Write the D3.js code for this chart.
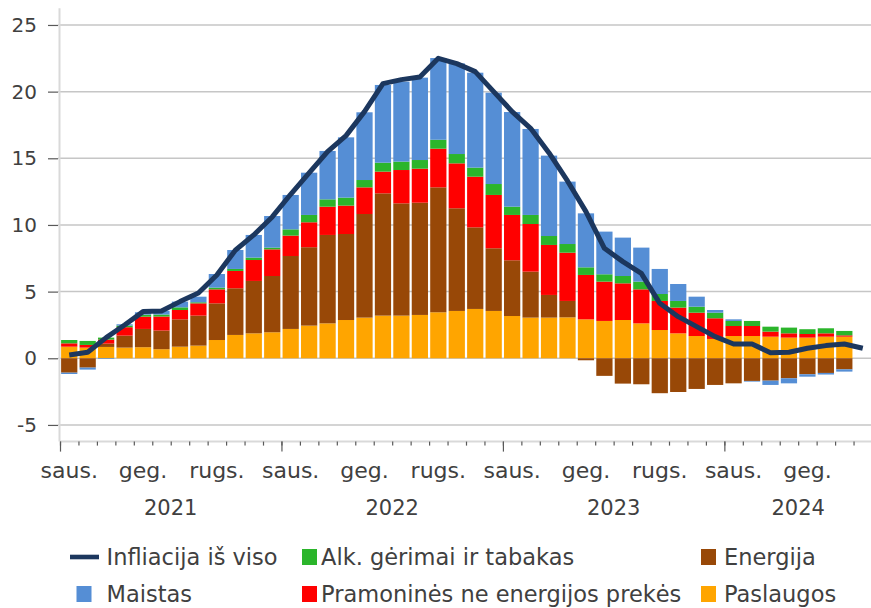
<!DOCTYPE html>
<html>
<head>
  <meta charset="utf-8">
  <script src="https://cdn.jsdelivr.net/npm/d3@7"></script>
<style type="text/css">
  body { margin: 0; background: #fff; }
  text { font-family: "DejaVu Sans", sans-serif; fill: #404040; }
</style>
</head>
<body>
<script>
  // months Jan 2021 .. Aug 2024 (bars end Jul 2024, line ends Aug 2024)
  var monthNames = ["saus.", "geg.", "rugs."];
  var years = ["2021", "2022", "2023", "2024"];

  var paslaugos = [0.87,0.8,0.85,0.8,0.83,0.68,0.87,0.95,1.37,1.75,1.87,1.95,
    2.2,2.45,2.62,2.87,3.05,3.2,3.2,3.25,3.45,3.55,3.7,3.55,
    3.17,3.05,3.05,3.07,2.92,2.8,2.87,2.62,2.12,1.87,1.67,1.45,
    1.67,1.67,1.62,1.55,1.55,1.62,1.62];
  var energija = [-1.08,-0.7,0.25,0.9,1.37,1.4,2.05,2.25,2.75,3.5,3.93,4.22,
    5.47,5.88,6.63,6.45,7.77,9.17,8.42,8.42,9.37,7.7,6.12,4.7,
    4.18,3.45,1.7,1.23,-0.15,-1.32,-1.9,-1.95,-2.62,-2.53,-2.3,-2.0,
    -1.88,-1.7,-1.68,-1.5,-1.2,-1.1,-0.83];
  var pramonines = [0.25,0.2,0.3,0.63,0.92,1.05,0.7,0.92,1.05,1.3,1.57,2.0,
    1.53,1.87,2.12,2.13,2.0,1.63,2.5,2.55,2.9,3.37,3.8,4.0,
    3.4,3.57,3.75,3.62,3.33,2.95,2.75,2.55,2.18,1.93,1.75,1.55,
    0.75,0.75,0.38,0.32,0.27,0.25,0.1];
  var alk = [0.25,0.3,0.15,0.12,0.15,0.15,0.2,0.08,0.13,0.15,0.18,0.13,
    0.47,0.55,0.55,0.6,0.55,0.67,0.63,0.65,0.67,0.7,0.68,0.82,
    0.62,0.68,0.67,0.65,0.57,0.55,0.55,0.58,0.52,0.5,0.45,0.42,
    0.38,0.38,0.37,0.43,0.36,0.38,0.33];
  var maistas = [-0.1,-0.15,-0.05,0.1,0.18,0.28,0.43,0.42,1.02,1.42,1.7,2.37,
    2.58,3.17,3.63,4.52,5.08,5.83,6.0,6.18,6.13,6.8,7.12,6.85,
    7.1,6.45,6.03,4.68,4.05,3.2,2.88,2.55,1.88,1.27,0.75,0.2,
    0.12,-0.05,-0.32,-0.38,-0.18,-0.12,-0.17];
  var infliacija = [0.25,0.45,1.55,2.5,3.5,3.55,4.25,4.9,6.25,8.1,9.25,10.6,
    12.3,13.9,15.5,16.7,18.5,20.6,20.9,21.1,22.5,22.1,21.5,20.0,
    18.5,17.25,15.4,13.3,11.0,8.25,7.25,6.37,4.12,3.12,2.37,1.62,
    1.07,1.07,0.42,0.45,0.75,0.95,1.07,0.75];

  var yTicks = [-5, 0, 5, 10, 15, 20, 25];

  var w = 871, h = 608;
  var nMonths = 44;
  var plotLeft = 60, plotRight = 872, plotTop = 8.3, plotBottom = 441.6;

  var keys = ["paslaugos", "energija", "pramonines", "alk", "maistas"];
  var colors = {
    paslaugos: "#ffa500",
    energija: "#984807",
    pramonines: "#ff0000",
    alk: "#2bb52b",
    maistas: "#558ed5"
  };
  var lineColor = "#1c375e";

  var rows = paslaugos.map(function (d, i) {
    return { i: i, paslaugos: d, energija: energija[i], pramonines: pramonines[i], alk: alk[i], maistas: maistas[i] };
  });

  var svg = d3.select("body").append("svg").attr("width", w).attr("height", h);

  var x = d3.scaleBand().domain(d3.range(nMonths)).range([plotLeft, plotRight])
            .paddingInner(0.12).paddingOuter(0.06);
  var xEdge = d3.scaleLinear().domain([0, nMonths]).range([plotLeft, plotRight]);
  var y = d3.scaleLinear().domain([-6.25, 26.25]).range([plotBottom, plotTop]);

  // grid
  svg.append("g").selectAll("line").data(yTicks).enter().append("line")
     .attr("x1", 58).attr("x2", w)
     .attr("y1", function (d) { return y(d); }).attr("y2", function (d) { return y(d); })
     .attr("stroke", "#c6c6c6").attr("stroke-width", 1.5);

  // y axis
  var yAxis = svg.append("g").attr("transform", "translate(58,0)")
     .call(d3.axisLeft(y).tickValues(yTicks).tickSize(10).tickPadding(11)
             .tickFormat(function (d) { return String(d); }));
  yAxis.select(".domain").remove();
  yAxis.selectAll(".tick line").attr("stroke", "#595959").attr("stroke-width", 1.2);
  yAxis.selectAll(".tick text").attr("font-size", 20).attr("fill", "#404040")
       .style("font-family", "DejaVu Sans");

  svg.append("line").attr("x1", 59.5).attr("x2", 59.5).attr("y1", plotTop).attr("y2", plotBottom)
     .attr("stroke", "#d9d9d9").attr("stroke-width", 2);

  // bars
  var series = d3.stack().keys(keys).offset(d3.stackOffsetDiverging)(rows);
  svg.append("g").selectAll("g").data(series).enter().append("g")
     .attr("fill", function (d) { return colors[d.key]; })
     .selectAll("rect").data(function (d) { return d; }).enter().append("rect")
     .attr("x", function (d) { return x(d.data.i); })
     .attr("width", x.bandwidth())
     .attr("y", function (d) { return y(Math.max(d[0], d[1])); })
     .attr("height", function (d) { return Math.abs(y(d[0]) - y(d[1])); });

  // x axis
  svg.append("line").attr("x1", plotLeft).attr("x2", w).attr("y1", plotBottom).attr("y2", plotBottom)
     .attr("stroke", "#d9d9d9").attr("stroke-width", 2);
  var minor = svg.append("g").attr("transform", "translate(0," + plotBottom + ")")
     .call(d3.axisBottom(xEdge).tickValues(d3.range(0, nMonths + 1)).tickSize(4).tickFormat(""));
  minor.select(".domain").remove();
  minor.selectAll(".tick line").attr("stroke", "#595959").attr("stroke-width", 1.2);
  var major = svg.append("g").attr("transform", "translate(0," + plotBottom + ")")
     .call(d3.axisBottom(xEdge).tickValues([0, 12, 24, 36]).tickSize(10).tickFormat(""));
  major.select(".domain").remove();
  major.selectAll(".tick line").attr("stroke", "#595959").attr("stroke-width", 1.2);

  var monthIdx = d3.range(0, nMonths, 4);
  svg.append("g").selectAll("text").data(monthIdx).enter().append("text")
     .attr("x", function (d) { return x(d) + x.bandwidth() / 2; })
     .attr("y", 478)
     .attr("text-anchor", "middle").attr("font-size", 22)
     .text(function (d) { return monthNames[(d % 12) / 4]; });

  svg.append("g").selectAll("text").data(years).enter().append("text")
     .attr("x", function (d, i) {
       var a = i * 12, b = Math.min(a + 12, nMonths);
       return (xEdge(a) + xEdge(b)) / 2;
     })
     .attr("y", 515)
     .attr("text-anchor", "middle").attr("font-size", 21)
     .text(function (d) { return d; });

  // line
  var line = d3.line()
     .x(function (d, i) { return x(i) + x.bandwidth() / 2; })
     .y(function (d) { return y(d); });
  svg.append("path").datum(infliacija)
     .attr("d", line).attr("fill", "none")
     .attr("stroke", lineColor).attr("stroke-width", 5)
     .attr("stroke-linejoin", "round");

  // legend
  var legend = [
    { name: "Infliacija iš viso", type: "line", color: lineColor, x: 70, tx: 106.5, y: 557 },
    { name: "Alk. gėrimai ir tabakas", color: colors.alk, x: 302, tx: 321, y: 557 },
    { name: "Energija", color: colors.energija, x: 701, tx: 724, y: 557 },
    { name: "Maistas", color: colors.maistas, x: 76.5, tx: 106.5, y: 594 },
    { name: "Pramoninės ne energijos prekės", color: colors.pramonines, x: 302, tx: 321, y: 594 },
    { name: "Paslaugos", color: colors.paslaugos, x: 701, tx: 724, y: 594 }
  ];
  var lg = svg.append("g").selectAll("g").data(legend).enter().append("g");
  lg.filter(function (d) { return d.type === "line"; }).append("rect")
    .attr("x", function (d) { return d.x; }).attr("y", function (d) { return d.y - 2.3; })
    .attr("width", 29).attr("height", 4.6).attr("fill", function (d) { return d.color; });
  lg.filter(function (d) { return d.type !== "line"; }).append("rect")
    .attr("x", function (d) { return d.x; }).attr("y", function (d) { return d.y - 8; })
    .attr("width", 15).attr("height", 16).attr("fill", function (d) { return d.color; });
  lg.append("text")
    .attr("x", function (d) { return d.tx; })
    .attr("y", function (d) { return d.y + 8; })
    .attr("font-size", 22.5)
    .text(function (d) { return d.name; });
</script>
</body>
</html>
